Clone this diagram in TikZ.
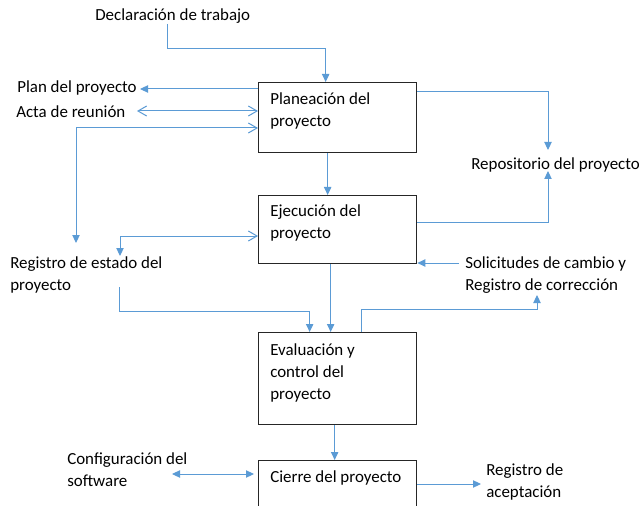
\documentclass[tikz,border=0pt]{standalone}
\usepackage{fontspec}
\setmainfont{Carlito}
\usetikzlibrary{arrows.meta,calc}
\definecolor{lineblue}{HTML}{5B9BD5}
\begin{document}
\begin{tikzpicture}[x=0.75pt,y=-0.75pt,
  lbl/.style={inner sep=0pt, anchor=base west, font=\fontsize{12.7}{16.5}\selectfont},
  box/.style={draw=black!85, line width=1pt, minimum width=118.5pt, inner sep=0pt, anchor=north west},
  con/.style={draw=lineblue, line width=0.75pt},
  tri/.tip={Triangle[length=6pt,width=5.5pt]},
  barb/.tip={Straight Barb[length=6.5pt,width=7.5pt,line width=0.75pt]}
]
\fill[white] (0,0) rectangle (639,506);
\useasboundingbox (0,0) rectangle (639,506);

% boxes
\node[box, minimum height=52.5pt] (plan) at (258,82) {};
\node[box, minimum height=51pt] (ejec) at (258,195) {};
\node[box, minimum height=69pt] (eval) at (258,332) {};
\node[box, minimum height=60pt] (cierre) at (258,460) {};

% texts
\newcommand{\tl}[1]{\begin{tabular}[t]{@{}l@{}}#1\end{tabular}}
\node[lbl] (planT) at (270,105) {\tl{Planeación del\\proyecto}};
\node[lbl] (ejecT) at (270,217) {\tl{Ejecución del\\proyecto}};
\node[lbl] (evalT) at (270,355) {\tl{Evaluación y\\control del\\proyecto}};
\node[lbl] (cierreT) at (270,482) {Cierre del proyecto};

\node[lbl] (decl) at (95,21) {Declaración de trabajo};
\node[lbl] (planp) at (17,93) {Plan del proyecto};
\node[lbl] (acta) at (16,118) {Acta de reunión};
\node[lbl] (repo) at (471,170) {Repositorio del proyecto};
\node[lbl] (reg) at (10,268) {\tl{Registro de estado del\\proyecto}};
\node[lbl] (sol) at (465,268) {\tl{Solicitudes de cambio y\\Registro de corrección}};
\node[lbl] (conf) at (67,464) {\tl{Configuración del\\software}};
\node[lbl] (acep) at (486,475) {\tl{Registro de\\aceptación}};

% free ends
\coordinate (d1) at (167,24);
\coordinate (p1) at (140,89);
\coordinate (a1) at (137,111);
\coordinate (r1) at (76,243);
\coordinate (rp1) at (548,150);
\coordinate (rp2) at (548,171);
\coordinate (r2) at (120,256);
\coordinate (r3) at (119,287);
\coordinate (s1) at (459,263);
\coordinate (s2) at (537,295);
\coordinate (c1) at (172,474);
\coordinate (ra1) at (481,484);

% connectors
\draw[con,-tri] (d1) -- (d1 |- 0,49) -| ($(plan.north)+(-12,0)$);
\draw[con,-tri] (p1 -| plan.west) -- (p1);
\draw[con,barb-barb] (a1) -- (a1 -| plan.west);
\draw[con,tri-barb] (r1) |- ($(plan.north west)+(0,46)$);
\draw[con,-tri] ($(plan.north east)+(0,10)$) -| (rp1);
\draw[con,-tri] ($(ejec.north east)+(0,28)$) -| (rp2);
\draw[con,-tri] ($(plan.south)+(-10,0)$) -- ($(ejec.north)+(-10,0)$);
\draw[con,tri-barb] (r2) |- ($(ejec.north west)+(0,41)$);
\draw[con,-tri] (r3) -- ++(0,24) -| ($(eval.north)+(-28,0)$);
\draw[con,-tri] ($(ejec.south)+(-7,0)$) -- ($(eval.north)+(-7,0)$);
\draw[con,-tri] (s1) -- (s1 -| ejec.east);
\draw[con,-tri] ($(eval.north)+(24,0)$) -- ++(0,-23) -| (s2);
\draw[con,-tri] ($(eval.south)+(-3,0)$) -- ($(cierre.north)+(-3,0)$);
\draw[con,tri-tri] (c1) -- ($(c1 -| cierre.west)+(-4,0)$);
\draw[con,-tri] (ra1 -| cierre.east) -- (ra1);
\end{tikzpicture}
\end{document}
